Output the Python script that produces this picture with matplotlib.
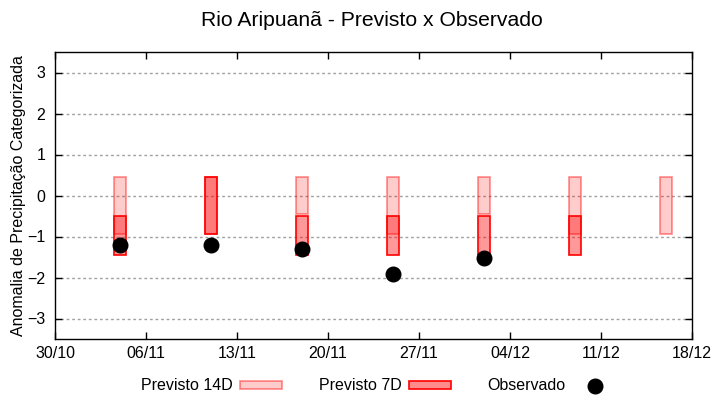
import datetime as dt
import matplotlib
matplotlib.use("Agg")
import matplotlib.pyplot as plt
import matplotlib.dates as mdates
from matplotlib.patches import Patch
from matplotlib.lines import Line2D

plt.rcParams['font.family'] = ['Liberation Sans', 'DejaVu Sans']

# ── dados ─────────────────────────────────────────────
datas = ["04/11", "11/11", "18/11", "25/11", "02/12", "09/12", "16/12"]
prev14_base = [-0.95, -0.95, -0.44, -0.95, -0.44, -0.95, -0.95]
prev14_topo = [0.44, 0.44, 0.44, 0.44, 0.44, 0.44, 0.44]
prev7_datas = ["04/11", "11/11", "18/11", "25/11", "02/12", "09/12"]
prev7_base = [-1.44, -0.95, -1.44, -1.44, -1.44, -1.44]
prev7_topo = [-0.5, 0.44, -0.5, -0.5, -0.5, -0.5]
obs_datas = ["04/11", "11/11", "18/11", "25/11", "02/12"]
obs_vals = [-1.2, -1.2, -1.3, -1.91, -1.52]
xticks = ["30/10", "06/11", "13/11", "20/11", "27/11", "04/12", "11/12", "18/12"]


def para_data(s):
    d, m = s.split("/")
    ano = 2023 if int(m) >= 10 else 2024
    return dt.datetime(ano, int(m), int(d))


x14 = mdates.date2num([para_data(s) for s in datas])
x7 = mdates.date2num([para_data(s) for s in prev7_datas])
xo = mdates.date2num([para_data(s) for s in obs_datas])
xt = mdates.date2num([para_data(s) for s in xticks])

fig = plt.figure(figsize=(7.2, 4), dpi=100)
ax = fig.add_axes([55 / 720, 1 - 339 / 400, 637 / 720, 287 / 400])

larg = 0.95
ax.bar(x14, [t - b for t, b in zip(prev14_topo, prev14_base)], bottom=prev14_base,
       width=larg, facecolor=(1, 0, 0, 0.2), edgecolor=(1, 0, 0, 0.45), linewidth=1.2, zorder=2)
ax.bar(x7, [t - b for t, b in zip(prev7_topo, prev7_base)], bottom=prev7_base,
       width=larg, facecolor=(1, 0, 0, 0.4), edgecolor=(1, 0, 0, 1), linewidth=1.2, zorder=3)
ax.plot(xo, obs_vals, 'o', color='black', markersize=10.5, zorder=4)

ax.set_xlim(xt[0], xt[-1])
ax.set_ylim(-3.5, 3.5)
ax.set_xticks(xt)
ax.set_xticklabels(xticks)
ax.set_yticks(range(-3, 4))
ax.tick_params(axis='both', direction='in', length=5, width=1, labelsize=11.5,
               top=True, right=True)
ax.tick_params(axis='y', pad=7)
ax.tick_params(axis='x', pad=5)
ax.grid(axis='y', linestyle=(0, (2, 2)), color='#a0a0a0', linewidth=1, zorder=0)
ax.set_axisbelow(True)
for s in ax.spines.values():
    s.set_linewidth(1)

ax.set_ylabel("Anomalia de Precipitação Categorizada", fontsize=11.5, labelpad=1)
fig.text(372 / 720, 1 - 20 / 400, "Rio Aripuanã - Previsto x Observado",
         fontsize=15.2, ha='center', va='center')

handles = [
    Patch(facecolor=(1, 0, 0, 0.2), edgecolor=(1, 0, 0, 0.45), linewidth=1.2),
    Patch(facecolor=(1, 0, 0, 0.45), edgecolor=(1, 0, 0, 1), linewidth=1.2),
    Line2D([], [], marker='o', color='black', linestyle='none', markersize=10.5),
]
fig.legend(handles, ["Previsto 14D", "Previsto 7D", "Observado"], loc='center',
           bbox_to_anchor=(378 / 720, 1 - 386 / 400), ncol=3, frameon=False,
           markerfirst=False, fontsize=11.5, handlelength=2.6, handleheight=0.4,
           handletextpad=0.5, columnspacing=2.3)

fig.savefig("out.png", dpi=100)
